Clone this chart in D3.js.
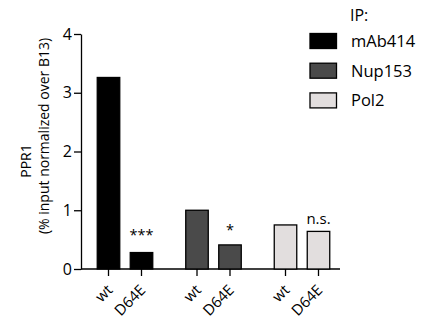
<!DOCTYPE html>
<html>
<head>
<meta charset="utf-8">
<script src="https://cdn.jsdelivr.net/npm/d3@7"></script>
<style>
  body { margin: 0; background: #fff; }
  svg text { font-family: "Open Sans", sans-serif; fill: #000; }
</style>
</head>
<body>
<div id="chart"></div>
<script>
const groups = ['mAb414', 'Nup153', 'Pol2'];
const conditions = ['wt', 'D64E'];
const values = [[3.26, 0.28], [1.0, 0.41], [0.75, 0.64]];
const signif = ['***', '*', 'n.s.'];
const fills = ['#000000', '#4a4a4a', '#e2dede'];
const yTicks = [0, 1, 2, 3, 4];

const width = 422, height = 322;
const sigGap = [13, 9.5, 7]; // distance of each mark above its bar

const svg = d3.select("#chart")
              .append("svg")
                .attr("width", width)
                .attr("height", height);

// scales
const y = d3.scaleLinear().domain([0, 4]).range([269, 34]);
const xGroup = d3.scalePoint().domain(groups).range([125, 302]);
const xCond = d3.scaleBand().domain(conditions).range([-27.75, 27.75]).paddingInner(0.318);

// Y axis
const yAxis = svg.append("g")
   .attr("transform", "translate(81,0)")
   .call(d3.axisLeft(y).tickValues(yTicks).tickFormat(d3.format("d"))
           .tickSize(7).tickSizeOuter(0).tickPadding(2));
yAxis.select(".domain").attr("stroke", "#000").attr("stroke-width", 1.3);
yAxis.selectAll(".tick line").attr("stroke-width", 1.3);
yAxis.selectAll("text").style("font-size", "16px");

// X axis line
svg.append("line")
   .attr("x1", 81).attr("x2", 340)
   .attr("y1", y(0)).attr("y2", y(0))
   .attr("stroke", "#000").attr("stroke-width", 1.3);

// Bars
groups.forEach((g, gi) => {
  const gx = xGroup(g);
  conditions.forEach((c, ci) => {
    const x0 = gx + xCond(c);
    svg.append("rect")
       .attr("x", x0)
       .attr("y", y(values[gi][ci]))
       .attr("width", xCond.bandwidth())
       .attr("height", y(0) - y(values[gi][ci]))
       .attr("fill", fills[gi])
       .attr("stroke", "#000")
       .attr("stroke-width", 1.3);

    const cx = x0 + xCond.bandwidth() / 2;
    // tick
    svg.append("line")
       .attr("x1", cx).attr("x2", cx)
       .attr("y1", y(0)).attr("y2", y(0) + 7)
       .attr("stroke", "#000").attr("stroke-width", 1.3);
    // rotated label (-45 deg)
    svg.append("text")
       .attr("transform", `translate(${cx + 5},${y(0) + 22}) rotate(-45)`)
       .attr("text-anchor", "end")
       .style("font-size", "15px")
       .text(c);
  });
  // significance
  const dx = gx + xCond('D64E') + xCond.bandwidth() / 2;
  svg.append("text")
     .attr("x", dx)
     .attr("y", y(values[gi][1]) - sigGap[gi])
     .attr("text-anchor", "middle")
     .style("font-size", signif[gi] == 'n.s.' ? "15px" : "14.5px")
     .text(signif[gi]);
});

// Y label
svg.append("text")
   .attr("transform", "translate(31,161) rotate(-90)")
   .attr("text-anchor", "middle")
   .style("font-size", "14px")
   .text("PPR1");
svg.append("text")
   .attr("transform", "translate(49,136) rotate(-90)")
   .attr("text-anchor", "middle")
   .style("font-size", "14px")
   .text("(% input normalized over B13)");

// Legend
svg.append("text")
   .attr("x", 350).attr("y", 21)
   .style("font-size", "16px")
   .text("IP:");
groups.forEach((g, i) => {
  const ly = 33.5 + i * 29.7;
  svg.append("rect")
     .attr("x", 310).attr("y", ly)
     .attr("width", 26.5).attr("height", 15)
     .attr("fill", fills[i])
     .attr("stroke", "#000")
     .attr("stroke-width", 1.3);
  svg.append("text")
     .attr("x", 351).attr("y", ly + 13.5)
     .style("font-size", "16.5px")
     .text(g);
});
</script>
</body>
</html>
